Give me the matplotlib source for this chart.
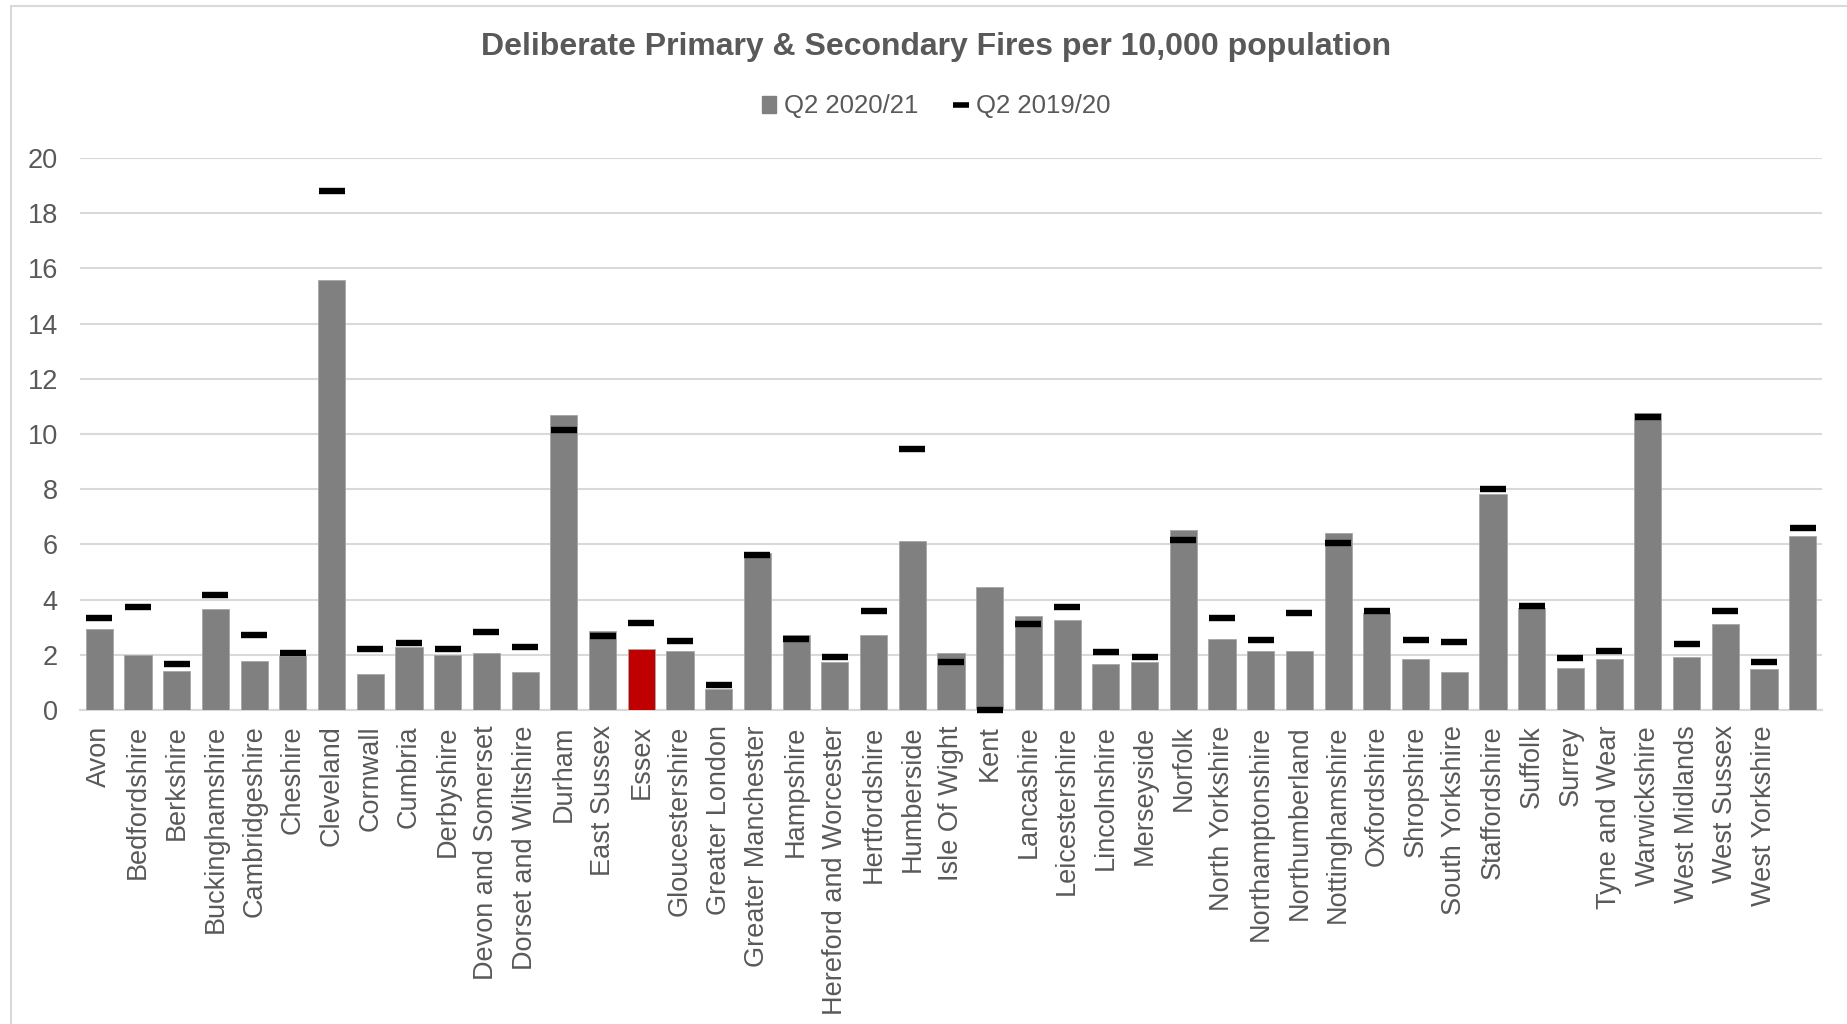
import matplotlib.pyplot as plt
import numpy as np
from matplotlib.patches import Rectangle

# data
areas = [
	"Avon", "Bedfordshire", "Berkshire", "Buckinghamshire", "Cambridgeshire",
	"Cheshire", "Cleveland", "Cornwall", "Cumbria", "Derbyshire",
	"Devon and Somerset", "Dorset and Wiltshire", "Durham", "East Sussex", "Essex",
	"Gloucestershire", "Greater London", "Greater Manchester", "Hampshire",
	"Hereford and Worcester", "Hertfordshire", "Humberside", "Isle Of Wight", "Kent",
	"Lancashire", "Leicestershire", "Lincolnshire", "Merseyside", "Norfolk",
	"North Yorkshire", "Northamptonshire", "Northumberland", "Nottinghamshire",
	"Oxfordshire", "Shropshire", "South Yorkshire", "Staffordshire", "Suffolk",
	"Surrey", "Tyne and Wear", "Warwickshire", "West Midlands", "West Sussex",
	"West Yorkshire", "",
]

q2_2020 = [
	2.95, 2.01, 1.43, 3.67, 1.78, 1.95, 15.57, 1.31, 2.30, 2.00,
	2.05, 1.38, 10.70, 2.87, 2.20, 2.14, 0.76, 5.69, 2.72, 1.74,
	2.73, 6.14, 2.08, 4.46, 3.42, 3.27, 1.65, 1.74, 6.52, 2.56,
	2.13, 2.13, 6.43, 3.50, 1.85, 1.37, 7.81, 3.68, 1.54, 1.85,
	10.76, 1.93, 3.11, 1.47, 6.30,
]

q2_2019 = [
	3.35, 3.72, 1.67, 4.18, 2.72, 2.05, 18.81, 2.21, 2.42, 2.20,
	2.84, 2.28, 10.15, 2.68, 3.15, 2.50, 0.92, 5.63, 2.56, 1.93,
	3.59, 9.47, 1.75, 0.00, 3.11, 3.72, 2.10, 1.92, 6.15, 3.32,
	2.55, 3.52, 6.04, 3.58, 2.52, 2.46, 8.01, 3.78, 1.90, 2.13,
	10.61, 2.40, 3.58, 1.74, 6.58,
]

highlight = "Essex"

text_col = "#595959"
grid_col = "#d9d9d9"

fig = plt.figure(figsize=(18.47, 10.24), dpi=100)
plt.rcParams["font.family"] = ["Liberation Sans", "DejaVu Sans"]

# chart area border (only left and top visible in the reference)
fig.patches.append(Rectangle((11 / 1847, -0.1), 1.2, 1.1 - 6 / 1024,
	transform=fig.transFigure, fill=False, edgecolor=grid_col, linewidth=1.5))

ax = fig.add_axes([0.0433, 0.3066, 0.9432, 0.5391])

x = np.arange(len(areas))
colors = ["#c00000" if a == highlight else "#808080" for a in areas]
bars = ax.bar(x, q2_2020, width=0.70, color=colors, edgecolor="#a6a6a6", linewidth=0.6,
	zorder=2)
prev, = ax.plot(x, q2_2019, linestyle="none", marker="_", markersize=19, markeredgewidth=4.6,
	color="black", zorder=3, clip_on=False)

ax.set_xlim(-0.5, len(areas) - 0.5)
ax.set_ylim(0, 20)
ax.set_yticks(range(0, 21, 2))
ax.yaxis.grid(True, color=grid_col, linewidth=1.5, zorder=0)
ax.set_axisbelow(True)

for s in ["top", "right", "left"]:
	ax.spines[s].set_visible(False)
ax.spines["bottom"].set_color(grid_col)
ax.spines["bottom"].set_linewidth(1.5)
ax.spines["bottom"].set_zorder(1)

ax.set_xticks(x)
ax.set_xticklabels(areas, rotation=90, fontsize=19.5, color=text_col)
ax.tick_params(axis="x", length=0, pad=11)
ax.tick_params(axis="y", length=0, pad=16, labelsize=19.5, labelcolor=text_col)

fig.text(0.507, 0.954, "Deliberate Primary & Secondary Fires per 10,000 population",
	ha="center", va="center", fontsize=23, fontweight="bold", color=text_col)

leg_bar = Rectangle((0, 0), 1, 1, color="#808080")
leg = fig.legend([leg_bar, prev], ["Q2 2020/21", "Q2 2019/20"], loc="center",
	bbox_to_anchor=(0.507, 0.896), ncol=2, frameon=False,
	fontsize=18.5, handlelength=0.55, handleheight=0.6, handletextpad=0.3, columnspacing=1.4)
for t in leg.get_texts():
	t.set_color(text_col)
leg.legend_handles[1].set_markersize(11)
leg.legend_handles[1].set_markeredgewidth(4)

fig.savefig("out.png", dpi=100, facecolor="white")
